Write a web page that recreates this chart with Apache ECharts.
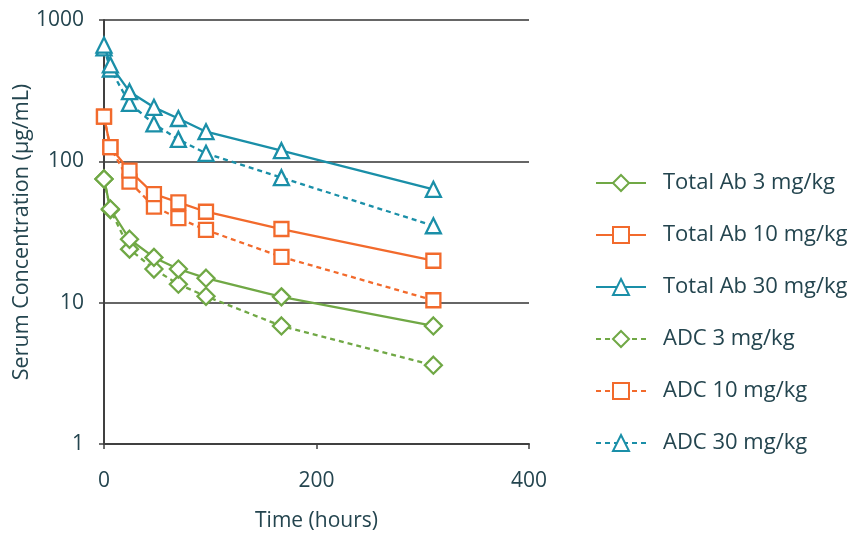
<!DOCTYPE html>
<html><head><meta charset="utf-8">
<script src="https://cdn.jsdelivr.net/npm/echarts@6/dist/echarts.min.js"></script>
<style>html,body{margin:0;padding:0;background:#fff}#c{width:849px;height:533px}</style>
</head><body><div id="c"></div>
<script>
const times = [0, 6, 24, 47, 70, 96, 167, 310];
const totalAb3  = [75, 46, 28.1, 20.9, 17.3, 14.9, 11.0, 6.84];
const totalAb10 = [207, 126, 85.9, 58.7, 51.3, 44, 33.2, 19.8];
const totalAb30 = [665, 481, 311, 241, 201, 162, 119, 63.4];
const adc3  = [75, 45.5, 23.9, 17.3, 13.5, 11.1, 6.84, 3.61];
const adc10 = [207, 126, 71.8, 47.8, 39.6, 32.7, 21.1, 10.4];
const adc30 = [634, 450, 257, 184, 143, 114, 76.6, 35];
const names = ['Total Ab 3 mg/kg','Total Ab 10 mg/kg','Total Ab 30 mg/kg','ADC 3 mg/kg','ADC 10 mg/kg','ADC 30 mg/kg'];
const yTicks = [1, 10, 100, 1000];
const xTicks = [0, 200, 400];

const GREEN = '#70a845', ORANGE = '#f26a2c', TEAL = '#1a8fa8';
const TXT = '#24454f';
const FONT = 'Open Sans';

function mk(name, vals, color, symbol, size, dashed) {
  return {
    name, type: 'line',
    data: times.map((t, i) => [t, vals[i]]),
    symbol, symbolSize: size, showSymbol: true,
    lineStyle: { color, width: 2.3, type: dashed ? [5, 4] : 'solid' },
    itemStyle: { color: '#fff', borderColor: color, borderWidth: 2.3 },
    emphasis: { disabled: true },
    animation: false, z: dashed ? 2 : 3
  };
}

const chart = echarts.init(document.getElementById('c'), null, { renderer: 'canvas' });
chart.setOption({
  backgroundColor: '#fff',
  textStyle: { fontFamily: FONT },
  grid: { left: 104, top: 20, width: 425, height: 424, containLabel: false, outerBoundsMode: 'none' },
  legend: {
    orient: 'vertical', left: 590, top: 167, itemGap: 30,
    itemWidth: 50, itemHeight: 20,
    data: names,
    textStyle: { color: TXT, fontSize: 22, fontFamily: FONT, padding: [0, 0, 0, 12] }
  },
  xAxis: {
    type: 'value', min: 0, max: 400, interval: 200,
    name: 'Time (hours)', nameLocation: 'middle', nameGap: 67, nameMoveOverlap: false,
    nameTextStyle: { color: TXT, fontSize: 21, fontFamily: FONT },
    axisLine: { show: true, lineStyle: { color: '#404040', width: 2 } },
    axisTick: { show: true, length: 5, lineStyle: { color: '#404040', width: 1.5 } },
    axisLabel: { color: TXT, fontSize: 21, margin: 27, fontFamily: FONT,
      formatter: v => xTicks.includes(v) ? String(v) : '' },
    splitLine: { show: false }
  },
  yAxis: {
    type: 'log', logBase: 10, min: 1, max: 1000,
    name: 'Serum Concentration (µg/mL)', nameLocation: 'middle', nameGap: 71, nameMoveOverlap: false,
    nameTextStyle: { color: TXT, fontSize: 21.5, fontFamily: FONT },
    axisLine: { show: true, lineStyle: { color: '#404040', width: 2 } },
    axisTick: { show: true, length: 5, lineStyle: { color: '#404040', width: 1.5 } },
    axisLabel: { color: TXT, fontSize: 21, margin: 20, fontFamily: FONT,
      formatter: v => yTicks.includes(Math.round(v)) ? String(Math.round(v)) : '' },
    splitLine: { show: true, lineStyle: { color: '#333', width: 1.5 } }
  },
  series: [
    mk(names[0], totalAb3, GREEN, 'diamond', 17, false),
    mk(names[1], totalAb10, ORANGE, 'rect', 14, false),
    mk(names[2], totalAb30, TEAL, 'triangle', 15, false),
    mk(names[3], adc3, GREEN, 'diamond', 17, true),
    mk(names[4], adc10, ORANGE, 'rect', 14, true),
    mk(names[5], adc30, TEAL, 'triangle', 15, true)
  ]
});
</script></body></html>
